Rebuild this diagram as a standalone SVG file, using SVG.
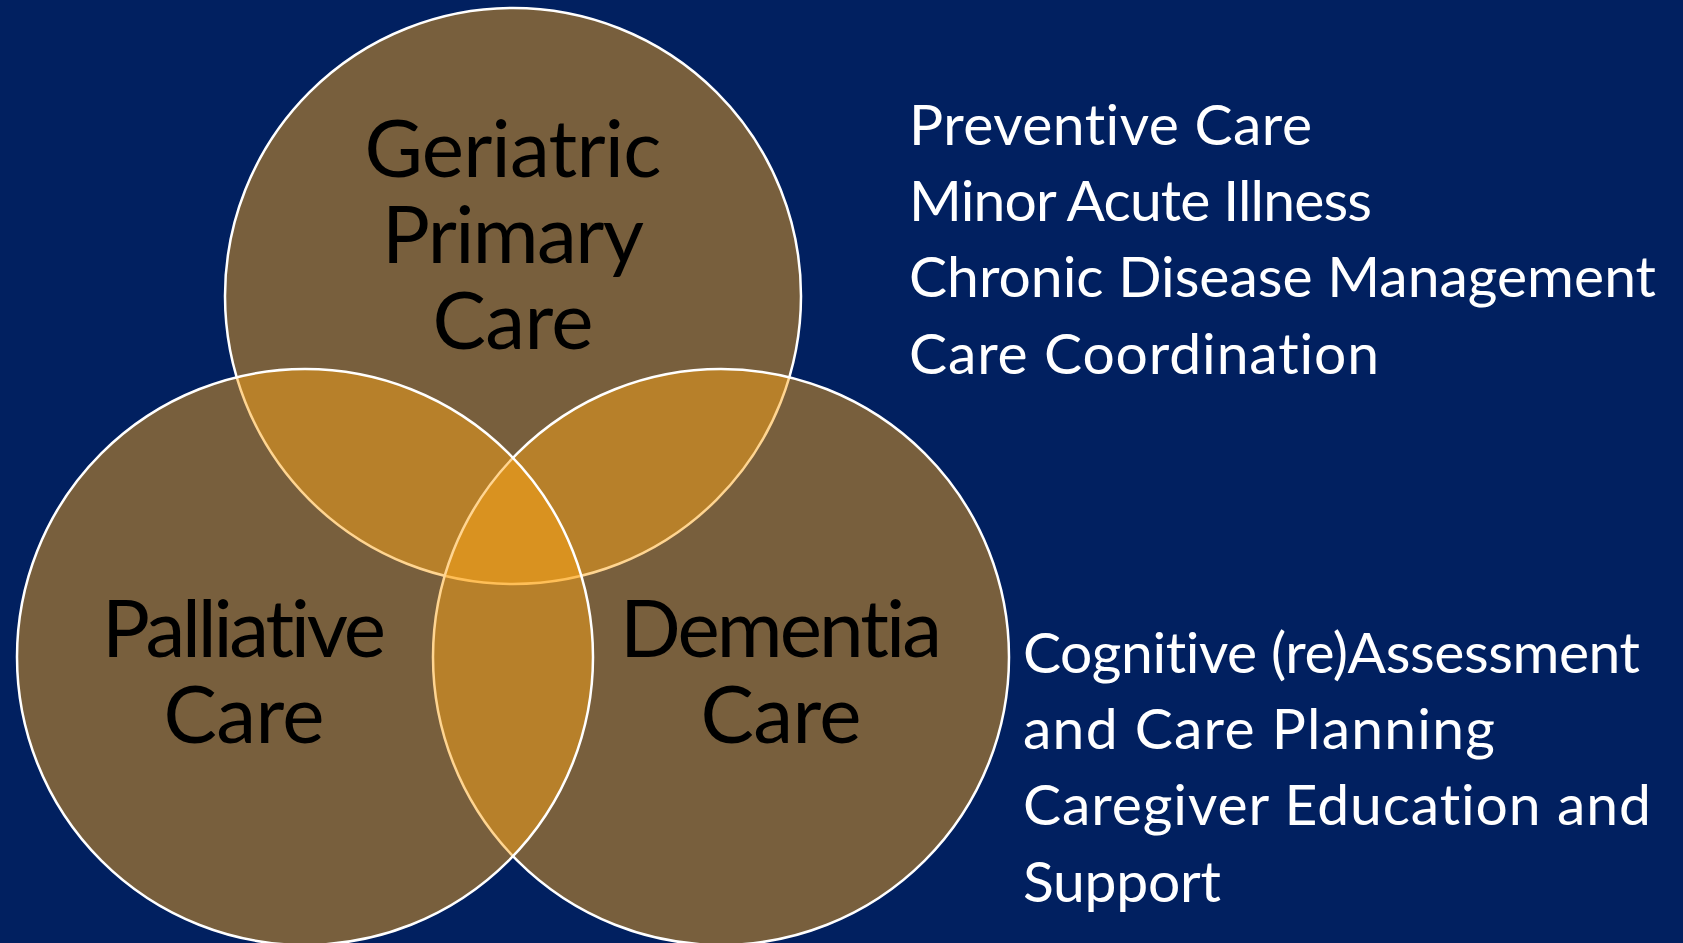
<svg xmlns="http://www.w3.org/2000/svg" width="1683" height="943" viewBox="0 0 1683 943">
<style>
text{font-variant-ligatures:none;font-feature-settings:"liga" 0,"clig" 0}
.c{fill:#FFA616;fill-opacity:0.47;stroke:#FFFFFF;stroke-width:2.5}
.lbl{font-family:"Lato","Open Sans","Liberation Sans",sans-serif;font-size:80px;fill:#000000;text-anchor:middle}
.side{font-family:"Lato","Liberation Sans",sans-serif;font-size:57px;fill:#FFFFFF}
</style>
<rect x="0" y="0" width="1683" height="943" fill="#012060"/>
<g id="geriatric">
<circle class="c" cx="513" cy="296" r="288"/>
<text class="lbl" x="513" y="177" textLength="297">Geriatric</text>
<text class="lbl" x="513" y="263" textLength="262">Primary</text>
<text class="lbl" x="513" y="349" textLength="161">Care</text>
</g>
<g id="dementia">
<circle class="c" cx="721" cy="657" r="288"/>
<text class="lbl" x="781" y="657" textLength="322">Dementia</text>
<text class="lbl" x="781" y="743" textLength="161">Care</text>
</g>
<g id="palliative">
<circle class="c" cx="305" cy="657" r="288"/>
<text class="lbl" x="244" y="657" textLength="284">Palliative</text>
<text class="lbl" x="244" y="743" textLength="161">Care</text>
</g>
<g id="list-primary">
<text class="side" x="909" y="145" textLength="403">Preventive Care</text>
<text class="side" x="909" y="221" textLength="463">Minor Acute Illness</text>
<text class="side" x="909" y="297" textLength="747">Chronic Disease Management</text>
<text class="side" x="909" y="374" textLength="470">Care Coordination</text>
</g>
<g id="list-dementia">
<text class="side" x="1023" y="673" textLength="617">Cognitive (re)Assessment</text>
<text class="side" x="1023" y="749" textLength="472">and Care Planning</text>
<text class="side" x="1023" y="825" textLength="628">Caregiver Education and</text>
<text class="side" x="1023" y="902" textLength="198">Support</text>
</g>
<g id="connectors"/>
</svg>
